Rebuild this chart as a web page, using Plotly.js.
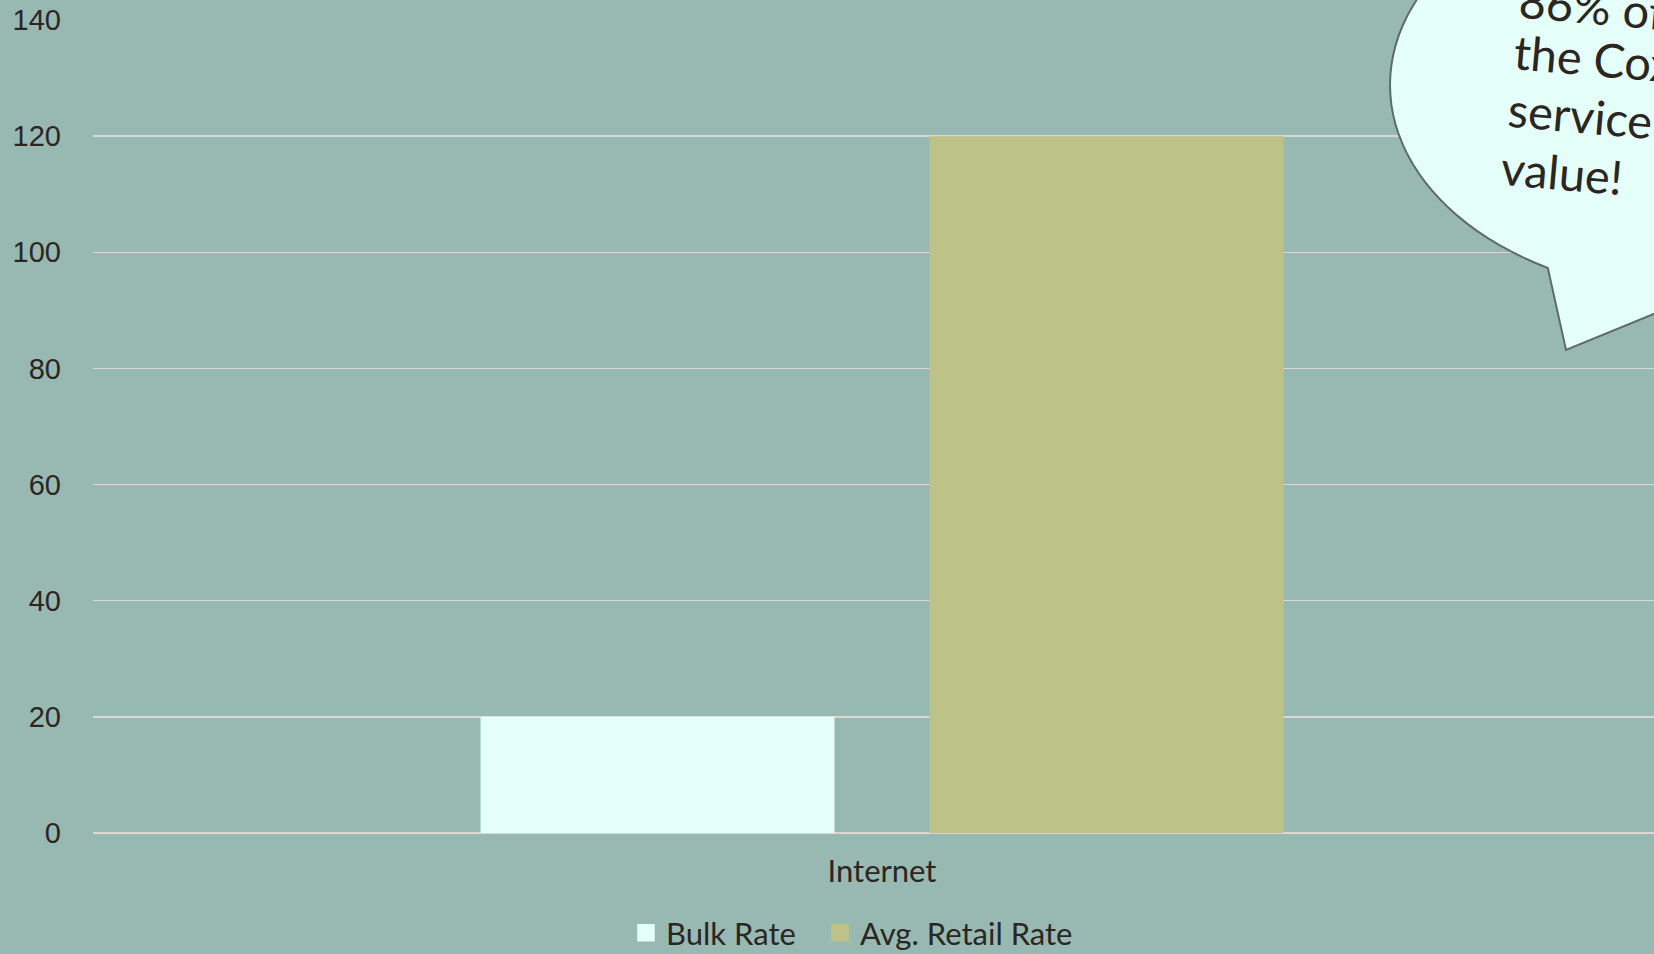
<!DOCTYPE html>
<html>
<head>
<meta charset="utf-8">
<script src="https://cdn.plot.ly/plotly-3.0.1.min.js"></script>
<style>html,body{margin:0;padding:0;background:#98B9B2;}#chart{width:1654px;height:954px;}</style>
</head>
<body>
<div id="chart"></div>
<script>
// ---- data ----
const categories = ["Internet"];
const bulkRate = [20];
const retailRate = [120];
const seriesNames = ["Bulk Rate", "Avg. Retail Rate"];
const seriesColors = ["#E3FFF8", "#BDC386"];
const yTicks = [0, 20, 40, 60, 80, 100, 120, 140];
const calloutLines = ["86% of", "the Cox", "service", "value!"];

// ---- layout geometry (pixels) ----
const W = 1654, H = 954;
const M = {l: 93, r: 0, t: 20, b: 121};
const plotW = W - M.l - M.r, plotH = H - M.t - M.b;
const px = x => (x - M.l) / plotW;
const py = y => (H - M.b - y) / plotH;

// speech bubble (ellipse + tail), in pixels
const cx = 1700, cy = 85, a = 310, b = 210;
const pts = [];
const t0 = 90, t1 = 119.4 - 360;
for (let i = 0; i <= 120; i++) {
  const th = (t0 + (t1 - t0) * i / 120) * Math.PI / 180;
  pts.push([cx + a * Math.cos(th), cy + b * Math.sin(th)]);
}
pts.push([1566, 350]);
const path = pts.map((p, i) => (i ? 'L' : 'M') + px(p[0]).toFixed(5) + ',' + py(p[1]).toFixed(5)).join(' ') + ' Z';

// callout line anchors (left start x, centre y), pixels
const lineX = [1515, 1510, 1504, 1497];
const lineY = [6, 58, 115, 172];

// legend swatch centres (pixels)
const legendX = [646, 840];

const traces = [
  {type: 'bar', x: categories, y: bulkRate, name: seriesNames[0],
   marker: {color: seriesColors[0]}, hoverinfo: 'y', showlegend: false},
  {type: 'bar', x: categories, y: retailRate, name: seriesNames[1],
   marker: {color: seriesColors[1]}, hoverinfo: 'y', showlegend: false}
];
// legend entries (square swatches), one legend each
seriesNames.forEach((n, i) => traces.push({
  type: 'scatter', mode: 'markers', x: [null], y: [null], name: n,
  legend: i ? 'legend2' : 'legend',
  marker: {symbol: 'square', size: 16, color: seriesColors[i], line: {width: 1.5, color: seriesColors[i]}},
  showlegend: true, hoverinfo: 'skip'
}));

const annotations = calloutLines.map((t, i) => ({
  xref: 'paper', yref: 'paper', x: px(lineX[i]), y: py(lineY[i]),
  xanchor: 'left', yanchor: 'middle', showarrow: false,
  text: t, textangle: 5,
  font: {family: 'Lato, sans-serif', size: 47, color: '#2B2622'}
}));

const legendBase = i => ({
  orientation: 'h', xref: 'paper', x: px(legendX[i] - 20), xanchor: 'left',
  yref: 'container', y: (H - 933) / H, yanchor: 'middle',
  font: {family: 'Lato, sans-serif', size: 31, color: '#2B2622'},
  bgcolor: 'rgba(0,0,0,0)', borderwidth: 0, itemclick: false, itemwidth: 30
});

const layout = {
  width: W, height: H,
  margin: M,
  paper_bgcolor: '#98B9B2',
  plot_bgcolor: '#98B9B2',
  barmode: 'group',
  bargap: 0.431,
  bargroupgap: 0.2116,
  font: {family: 'Lato, sans-serif', color: '#2B2622'},
  xaxis: {
    type: 'category',
    range: [-0.5, -0.5 + plotW / 1578],
    showgrid: false, zeroline: false, showline: false, ticks: '',
    tickfont: {family: 'Lato, sans-serif', size: 31, color: '#2B2622'},
    ticklabelstandoff: 17
  },
  yaxis: {
    range: [0, 140],
    tickvals: yTicks,
    showgrid: true, gridcolor: '#DCD7D2', gridwidth: 1.5,
    zeroline: true, zerolinecolor: '#DCD7D2', zerolinewidth: 1.5,
    showline: false, ticks: '',
    tickfont: {family: '"Liberation Sans", Arial, sans-serif', size: 29, color: '#2B2622'},
    ticklabelstandoff: 31
  },
  showlegend: true,
  legend: legendBase(0),
  legend2: legendBase(1),
  shapes: [{
    type: 'path', xref: 'paper', yref: 'paper', path: path,
    fillcolor: '#E5FFF9', line: {color: '#5F6B68', width: 2}, layer: 'above'
  }],
  annotations: annotations
};

Plotly.newPlot('chart', traces, layout, {displayModeBar: false, staticPlot: true});
</script>
</body>
</html>
